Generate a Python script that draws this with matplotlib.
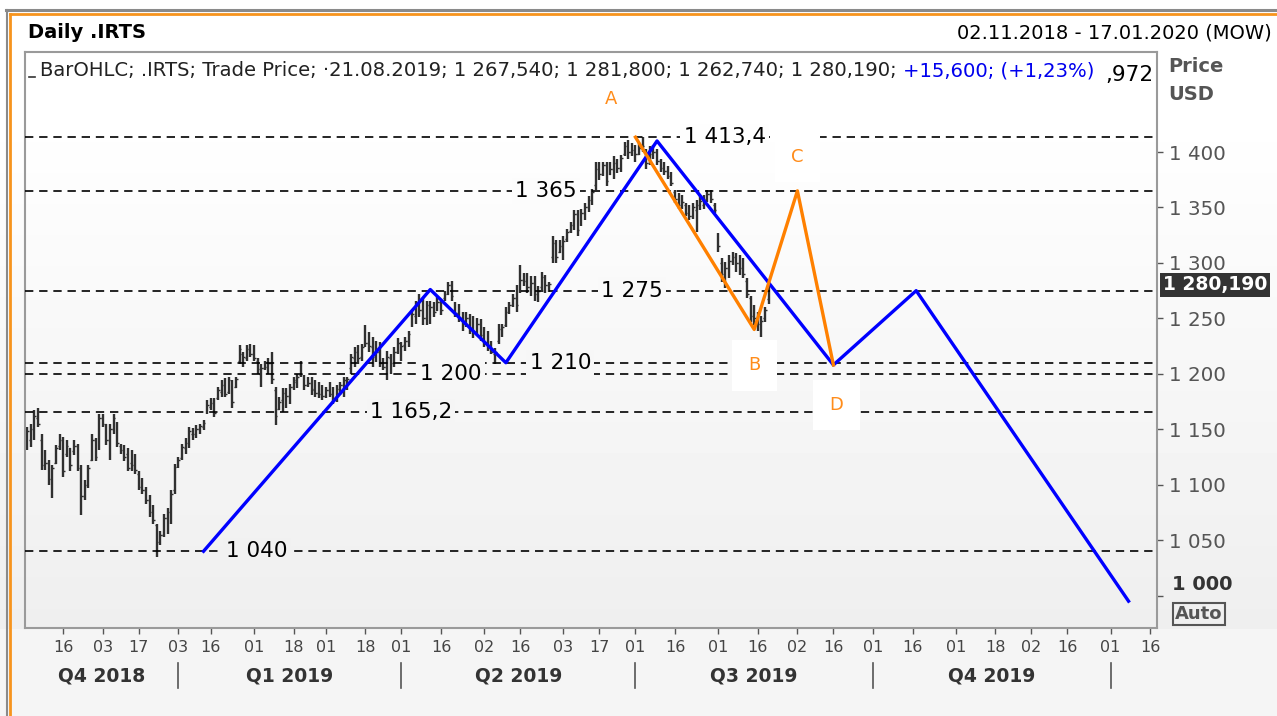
import numpy as np
import matplotlib
matplotlib.use('Agg')
import matplotlib.pyplot as plt
import matplotlib.transforms as mtransforms
from matplotlib.lines import Line2D

W, H = 1277, 716
DPI = 100

# trading-day axis starts at the first bar
START = '2018-11-02'
HOLIDAYS = ['2019-01-01', '2019-01-02']

# daily OHLC of .IRTS, 02.11.2018 - 21.08.2019
highs = [1152, 1155, 1167, 1169, 1146, 1131, 1122, 1118, 1136, 1146, 1143, 1140, 1133, 1140, 1137, 1118,
         1104, 1118, 1146, 1142, 1164, 1164, 1155, 1155, 1164, 1157, 1137, 1136, 1133, 1131, 1128, 1112,
         1106, 1098, 1091, 1082, 1065, 1058, 1074, 1079, 1095, 1119, 1125, 1137, 1142, 1152, 1151, 1154,
         1155, 1158, 1176, 1178,
         1178, 1188, 1194, 1196, 1197, 1194, 1197, 1226, 1220, 1226, 1227, 1226, 1214, 1209, 1212, 1214,
         1220, 1188, 1179, 1187, 1187, 1191, 1197, 1200, 1212, 1199, 1197, 1197, 1194, 1193, 1190, 1188,
         1193, 1188, 1190, 1193, 1197, 1197, 1218, 1224, 1226, 1227, 1244, 1238, 1233, 1230, 1229, 1214,
         1221, 1218, 1224, 1232, 1229, 1233, 1239,
         1257, 1266, 1272, 1268, 1266, 1266, 1265, 1269, 1266, 1275, 1283, 1284, 1265, 1263, 1256, 1256,
         1254, 1252, 1250, 1249, 1242, 1239, 1230, 1223, 1245, 1245, 1260, 1265, 1272, 1280, 1298, 1291,
         1291, 1288, 1288, 1279, 1292, 1289, 1283, 1324, 1321, 1321, 1324, 1331, 1337, 1348, 1348, 1349,
         1354, 1360, 1367, 1391, 1391, 1391, 1391, 1391, 1396, 1394, 1397, 1409,
         1411, 1408, 1406, 1408, 1413.4, 1403, 1405, 1406, 1403, 1394, 1391, 1387, 1382, 1366, 1363, 1361,
         1354, 1352, 1354, 1357, 1360, 1361, 1366, 1366, 1354, 1327, 1304, 1301, 1307, 1310, 1309, 1307,
         1304, 1286, 1270, 1262, 1256, 1252, 1260, 1281.8]
lows = [1131, 1134, 1140, 1152, 1113, 1113, 1100, 1088, 1119, 1131, 1107, 1125, 1112, 1127, 1112, 1073,
        1086, 1097, 1121, 1121, 1131, 1152, 1136, 1122, 1146, 1134, 1128, 1121, 1112, 1112, 1110, 1095,
        1092, 1083, 1071, 1065, 1035, 1046, 1053, 1056, 1065, 1092, 1115, 1122, 1128, 1133, 1140, 1142,
        1146, 1149, 1164, 1167,
        1161, 1176, 1179, 1179, 1182, 1169, 1187, 1209, 1206, 1212, 1215, 1212, 1200, 1188, 1203, 1200,
        1191, 1154, 1167, 1166, 1169, 1173, 1185, 1187, 1197, 1185, 1188, 1181, 1179, 1178, 1176, 1178,
        1179, 1173, 1175, 1181, 1179, 1185, 1200, 1206, 1211, 1212, 1224, 1220, 1206, 1211, 1206, 1203,
        1194, 1200, 1206, 1218, 1212, 1221, 1224,
        1242, 1245, 1251, 1244, 1244, 1245, 1251, 1257, 1253, 1266, 1271, 1266, 1251, 1247, 1239, 1242,
        1236, 1232, 1236, 1230, 1224, 1221, 1218, 1209, 1227, 1233, 1242, 1254, 1260, 1256, 1273, 1279,
        1273, 1270, 1266, 1265, 1276, 1273, 1274, 1300, 1300, 1309, 1303, 1319, 1327, 1330, 1324, 1333,
        1339, 1346, 1352, 1366, 1375, 1378, 1369, 1379, 1376, 1381, 1382, 1396,
        1394, 1396, 1391, 1397, 1400, 1385, 1388, 1394, 1388, 1382, 1379, 1376, 1369, 1354, 1349, 1349,
        1342, 1339, 1340, 1328, 1348, 1349, 1355, 1354, 1345, 1310, 1283, 1277, 1286, 1298, 1292, 1289,
        1286, 1268, 1247, 1244, 1239, 1233, 1247, 1262.74]
opens = [1135, 1140, 1148, 1160, 1140, 1118, 1120, 1108, 1120, 1135, 1140, 1128, 1133, 1130, 1135, 1115,
         1090, 1100, 1122, 1140, 1135, 1160, 1155, 1140, 1150, 1155, 1135, 1131, 1128, 1120, 1118, 1110,
         1100, 1095, 1086, 1078, 1064, 1050, 1055, 1070, 1068, 1095, 1117, 1124, 1133, 1138, 1146, 1146,
         1150, 1152, 1166, 1170,
         1175, 1178, 1184, 1192, 1184, 1192, 1188, 1212, 1218, 1214, 1222, 1218, 1212, 1200, 1205, 1204,
         1210, 1185, 1168, 1176, 1183, 1180, 1188, 1193, 1199, 1197, 1190, 1192, 1186, 1183, 1182, 1180,
         1185, 1182, 1179, 1186, 1190, 1193, 1205, 1214, 1220, 1215, 1226, 1228, 1224, 1215, 1220, 1210,
         1206, 1214, 1210, 1220, 1228, 1226, 1230,
         1245, 1252, 1262, 1258, 1250, 1262, 1260, 1258, 1265, 1268, 1272, 1280, 1262, 1255, 1250, 1245,
         1250, 1240, 1238, 1245, 1235, 1228, 1225, 1218, 1230, 1240, 1244, 1256, 1262, 1268, 1275, 1285,
         1284, 1278, 1282, 1272, 1278, 1287, 1280, 1305, 1318, 1310, 1315, 1322, 1329, 1334, 1344, 1335,
         1345, 1350, 1357, 1370, 1385, 1380, 1388, 1380, 1385, 1390, 1386, 1398,
         1404, 1400, 1402, 1398, 1404, 1400, 1390, 1398, 1400, 1392, 1386, 1383, 1378, 1364, 1358, 1352,
         1352, 1345, 1342, 1348, 1352, 1352, 1358, 1362, 1352, 1325, 1300, 1290, 1295, 1302, 1305, 1300,
         1298, 1284, 1268, 1252, 1250, 1245, 1250, 1267.54]
closes = [1148, 1150, 1162, 1155, 1118, 1120, 1105, 1115, 1133, 1140, 1112, 1135, 1118, 1135, 1115, 1090,
          1100, 1115, 1140, 1125, 1160, 1155, 1140, 1150, 1160, 1138, 1131, 1125, 1115, 1118, 1113, 1098,
          1095, 1086, 1075, 1068, 1048, 1055, 1070, 1075, 1092, 1116, 1122, 1134, 1138, 1148, 1146, 1150,
          1153, 1156, 1172, 1174,
          1165, 1185, 1190, 1182, 1194, 1175, 1195, 1222, 1215, 1222, 1218, 1214, 1204, 1205, 1206, 1210,
          1195, 1162, 1175, 1183, 1180, 1188, 1194, 1197, 1200, 1190, 1192, 1185, 1183, 1182, 1180, 1185,
          1182, 1178, 1186, 1190, 1194, 1195, 1215, 1220, 1214, 1224, 1228, 1225, 1215, 1220, 1210, 1206,
          1215, 1210, 1220, 1228, 1225, 1230, 1236,
          1254, 1262, 1258, 1250, 1262, 1260, 1256, 1265, 1258, 1272, 1280, 1270, 1255, 1250, 1245, 1250,
          1240, 1238, 1245, 1235, 1228, 1225, 1220, 1220, 1240, 1242, 1256, 1262, 1268, 1262, 1285, 1284,
          1278, 1282, 1272, 1275, 1287, 1280, 1281, 1318, 1305, 1315, 1320, 1328, 1334, 1344, 1330, 1345,
          1350, 1357, 1364, 1385, 1380, 1388, 1374, 1385, 1390, 1386, 1395, 1405,
          1400, 1402, 1398, 1404, 1405, 1390, 1398, 1400, 1392, 1386, 1383, 1378, 1372, 1358, 1352, 1355,
          1345, 1342, 1350, 1352, 1356, 1358, 1362, 1358, 1348, 1315, 1290, 1295, 1302, 1305, 1300, 1295,
          1290, 1272, 1252, 1250, 1245, 1248, 1258, 1280.19]
last_price = 1280.19

# horizontal support / resistance levels
levels = [1413.4, 1365, 1275, 1210, 1200, 1165.2, 1040]
level_text = ['1 413,4', '1 365', '1 275', '1 210', '1 200', '1 165,2', '1 040']
level_text_x = [0.618, 0.460, 0.536, 0.473, 0.376, 0.341, 0.205]  # axes fraction

# blue projection line
wave_dates = ['2019-01-14', '2019-04-11', '2019-05-10', '2019-07-09', '2019-09-16', '2019-10-17', '2020-01-08']
wave_values = [1040, 1276, 1210, 1410, 1208, 1275, 995]

# orange ABCD pattern
abcd_dates = ['2019-07-01', '2019-08-15', '2019-09-02', '2019-09-16']
abcd_values = [1413.4, 1240, 1365, 1208]
abcd_names = ['A', 'B', 'C', 'D']
abcd_offsets = [(-24, 38), (0, -36), (0, 34), (3, -40)]

tick_dates = ['2018-11-16', '2018-12-03', '2018-12-17', '2019-01-03', '2019-01-16', '2019-02-01',
              '2019-02-18', '2019-03-01', '2019-03-18', '2019-04-01', '2019-04-16', '2019-05-02',
              '2019-05-16', '2019-06-03', '2019-06-17', '2019-07-01', '2019-07-16', '2019-08-01',
              '2019-08-16', '2019-09-02', '2019-09-16', '2019-10-01', '2019-10-16', '2019-11-01',
              '2019-11-18', '2019-12-02', '2019-12-16', '2020-01-01', '2020-01-16']
quarter_edges = ['2019-01-03', '2019-04-01', '2019-07-01', '2019-10-01', '2020-01-01']
quarter_names = ['Q4 2018', 'Q1 2019', 'Q2 2019', 'Q3 2019', 'Q4 2019']
price_ticks = [1050, 1100, 1150, 1200, 1250, 1300, 1350, 1400]


def bidx(d):
    return np.busday_count(START, d, holidays=HOLIDAYS)


def fx(px):
    return px / W


def fy(py):
    return 1 - py / H


def ru(v, dec=0):
    s = f"{v:,.{dec}f}"
    return s.replace(',', ' ').replace('.', ',')


fig = plt.figure(figsize=(W / DPI, H / DPI), dpi=DPI)
fig.patch.set_facecolor('white')

# soft vertical gradient behind everything
bg = fig.add_axes([0, 0, 1, 1], zorder=-10)
rows = np.arange(H)
shade = np.interp(rows, [0, 110, 628, 629, H], [1.0, 1.0, 0.935, 0.958, 0.958])
bg.imshow(np.repeat(shade[:, None], 2, axis=1), cmap='gray', vmin=0, vmax=1,
          aspect='auto', extent=[0, 1, 0, 1])
bg.axis('off')

# frame lines
fig.add_artist(Line2D([fx(6), 1], [fy(10), fy(10)], color='#8a8a8a', lw=2.2))
fig.add_artist(Line2D([fx(6.5), fx(6.5)], [fy(10), 0], color='#8a8a8a', lw=1.5))
fig.add_artist(Line2D([fx(9.5), 1], [fy(13.5), fy(13.5)], color='#f7941d', lw=2))
fig.add_artist(Line2D([fx(9.5), fx(9.5)], [fy(13.5), 0], color='#f7941d', lw=2))

ax = fig.add_axes([fx(25), fy(628), (1157 - 25) / W, (628 - 52) / H])
ax.patch.set_alpha(0)
x0 = -0.6
x1 = (1157 - 26) / 3.603
ax.set_xlim(x0, x1)
ax.set_ylim(970.8, 1490.2)

x = np.arange(len(highs))
ax.vlines(x, lows, highs, color='#303030', lw=1.7, zorder=2)
ax.hlines(opens, x - 0.45, x, color='#303030', lw=1.0, zorder=2)
ax.hlines(closes, x, x + 0.45, color='#303030', lw=1.0, zorder=2)

for lv in levels:
    ax.axhline(lv, color='black', lw=1.2, ls=(0, (5, 3.5)), zorder=3)

wave_x = [bidx(d) for d in wave_dates]
ax.plot(wave_x, wave_values, color='#0000ff', lw=2.4, zorder=4, clip_on=False)
abcd_x = [bidx(d) for d in abcd_dates]
ax.plot(abcd_x, abcd_values, color='#ff8000', lw=2.4, zorder=4)

for name, xx, yy, off in zip(abcd_names, abcd_x, abcd_values, abcd_offsets):
    box = None if name == 'A' else dict(boxstyle='square,pad=0.9', fc='white', ec='none')
    ax.annotate(name, (xx, yy), xytext=off, textcoords='offset pixels', ha='center', va='center',
                fontsize=13, color='#ff8c1a', bbox=box, zorder=5)

# spines / axes cosmetics
for sp in ax.spines.values():
    sp.set_color('#9a9a9a')
    sp.set_linewidth(1.5)

ax.set_xticks([bidx(d) for d in tick_dates])
ax.set_xticklabels([d[-2:] for d in tick_dates])
ax.tick_params(axis='x', length=4, width=1, color='#555555', labelsize=11.5,
               labelcolor='#444444', pad=5)

ax.yaxis.tick_right()
ax.set_yticks([1000] + price_ticks)
ax.set_yticklabels([''] + [ru(v) for v in price_ticks])
ax.tick_params(axis='y', length=4.5, width=1, color='#555555', labelsize=14.3,
               labelcolor='#555555', pad=4)

fig.canvas.draw()
ren = fig.canvas.get_renderer()

# level labels with a background matching the local gradient
for lv, txt, xa in zip(levels, level_text, level_text_x):
    ypx = H - ax.transData.transform((0, lv))[1]
    g = shade[int(np.clip(ypx, 0, H - 1))]
    ax.text(xa, lv, txt, transform=mtransforms.blended_transform_factory(ax.transAxes, ax.transData),
            ha='center', va='center', fontsize=15.5, color='black', zorder=5,
            bbox=dict(boxstyle='square,pad=0.15', fc=(g, g, g), ec='none'))

# quarter labels and separators
qtrans = mtransforms.blended_transform_factory(ax.transData, ax.transAxes)
edges = [x0] + [bidx(d) for d in quarter_edges]
for i, name in enumerate(quarter_names):
    ax.text((edges[i] + edges[i + 1]) / 2, -(676 - 628) / 576, name, transform=qtrans,
            ha='center', va='center', fontsize=13.5, fontweight='bold', color='#333333', clip_on=False)
for e in edges[1:]:
    ax.plot([e, e], [-(663 - 628) / 576, -(688 - 628) / 576], transform=qtrans,
            color='#555555', lw=1.2, clip_on=False)

# header
fig.text(fx(28), fy(33), 'Daily .IRTS', fontsize=14, fontweight='bold', va='center', color='black')
fig.text(fx(1272), fy(33), '02.11.2018 - 17.01.2020 (MOW)', fontsize=14, ha='right', va='center')

# visible tail of a value label that sits behind the legend line
fig.text(fx(1153), fy(75), ',972', fontsize=15.5, ha='right', va='center', color='black')

# legend line
fig.add_artist(Line2D([fx(29), fx(35)], [fy(77), fy(77)], color='#333333', lw=1.2))
leg = ('BarOHLC; .IRTS; Trade Price; \u00b721.08.2019; ' +
       '; '.join(ru(v, 3) for v in [opens[-1], highs[-1], lows[-1], closes[-1]]) + '; ')
t1 = fig.text(fx(40), fy(71), leg, fontsize=14.1, va='center', color='#222222',
              bbox=dict(boxstyle='square,pad=0.05', fc='white', ec='none'))
fig.canvas.draw()
bb = t1.get_window_extent(ren)
fig.text(bb.x1 / W, fy(71), '+15,600; (+1,23%)', fontsize=14.1, va='center', color='#0000ee',
         bbox=dict(boxstyle='square,pad=0.05', fc='white', ec='none'))

# right axis extras
fig.text(fx(1168), fy(66), 'Price', fontsize=14, fontweight='bold', va='center', color='#555555')
fig.text(fx(1168), fy(95), 'USD', fontsize=14, fontweight='bold', va='center', color='#555555')
fig.text(fx(1172), fy(585), ru(1000), fontsize=14, fontweight='bold', va='center', color='#333333')
fig.text(fx(1199), fy(614), 'Auto', fontsize=13, fontweight='bold', ha='center', va='center',
         color='#555555', bbox=dict(boxstyle='square,pad=0.12', fc='none', ec='#555555', lw=1.5))
ylp = ax.transData.transform((0, last_price))[1] / H
fig.text(fx(1163), ylp, ru(last_price, 3), fontsize=13.5, fontweight='bold', va='center',
         color='white', bbox=dict(boxstyle='square,pad=0.15', fc='#333333', ec='none'))

fig.savefig('out.png', dpi=DPI)
